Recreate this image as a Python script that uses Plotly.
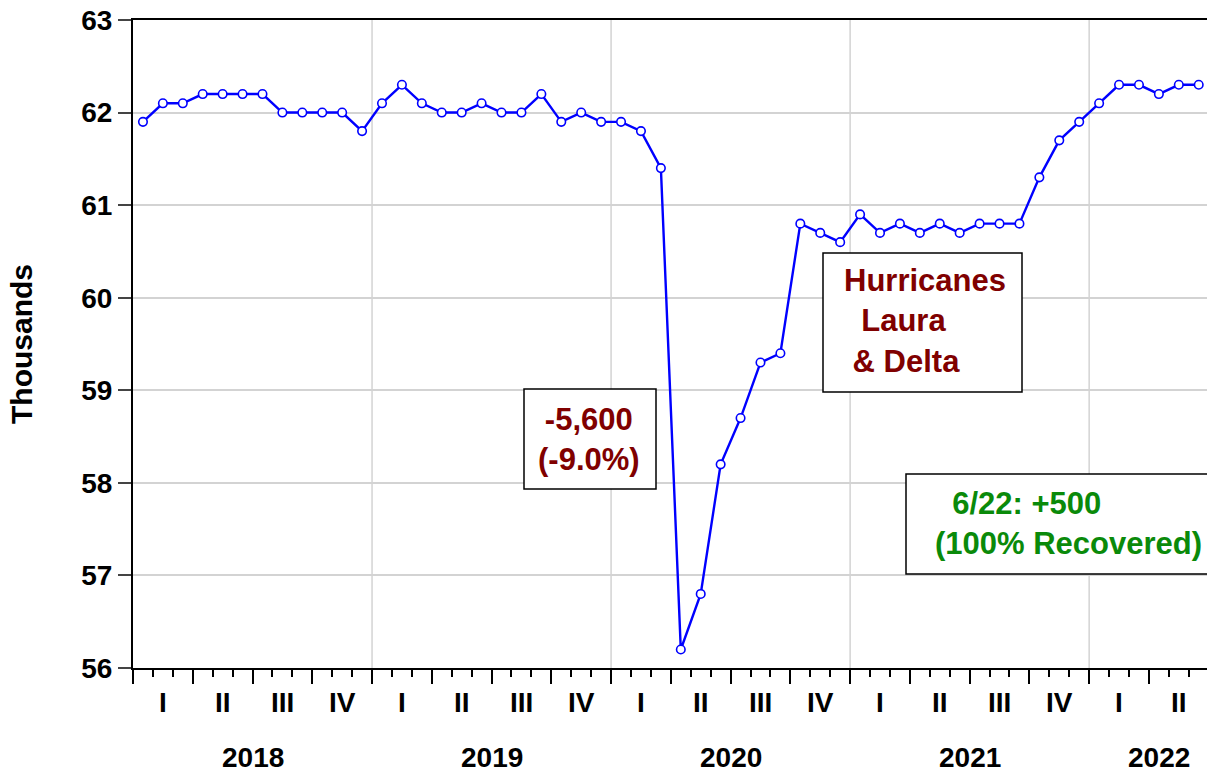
import plotly.graph_objects as go

# Monthly employment, thousands (Jan 2018 - Jun 2022)
employment = [
    61.9, 62.1, 62.1, 62.2, 62.2, 62.2, 62.2, 62.0, 62.0, 62.0, 62.0, 61.8,  # 2018
    62.1, 62.3, 62.1, 62.0, 62.0, 62.1, 62.0, 62.0, 62.2, 61.9, 62.0, 61.9,  # 2019
    61.9, 61.8, 61.4, 56.2, 56.8, 58.2, 58.7, 59.3, 59.4, 60.8, 60.7, 60.6,  # 2020
    60.9, 60.7, 60.8, 60.7, 60.8, 60.7, 60.8, 60.8, 60.8, 61.3, 61.7, 61.9,  # 2021
    62.1, 62.3, 62.3, 62.2, 62.3, 62.3,                                      # 2022
]
year_labels = ["2018", "2019", "2020", "2021", "2022"]
quarter_labels = ["I", "II", "III", "IV"]
y_ticks = [56, 57, 58, 59, 60, 61, 62, 63]

FONT = "Liberation Sans, Arial, sans-serif"
BLUE = "#0000FF"
MAROON = "#800000"
GREEN = "#0A8A0A"
GRID = "#D3D3D3"

W, H = 1207, 773
L, R, T, B = 133, 0, 20, 105
PW, PH = W - L - R, H - T - B


def pxx(x):
    return (x - L) / PW


def pxy(y):
    return (H - B - y) / PH


n = len(employment)
x_pos = [i + 0.5 for i in range(n)]
x_end = PW / 19.92

fig = go.Figure(
    go.Scatter(
        x=x_pos,
        y=employment,
        mode="lines+markers",
        line=dict(color=BLUE, width=2.4),
        marker=dict(symbol="circle", size=8.5, color="white",
                    line=dict(color=BLUE, width=1.6)),
        showlegend=False,
    )
)

# vertical grid lines at year boundaries
for k in range(1, len(year_labels)):
    fig.add_shape(type="line", xref="x", yref="paper", x0=12 * k, x1=12 * k,
                  y0=0, y1=1, line=dict(color=GRID, width=1.5), layer="below")

# quarter labels under the axis
n_quarters = -(-n // 3)
for q in range(n_quarters):
    fig.add_annotation(x=3 * q + 1.5, y=pxy(702), xref="x", yref="paper",
                       text=quarter_labels[q % 4], showarrow=False,
                       yanchor="middle",
                       font=dict(family=FONT, size=28, color="black", weight="bold"))

# year labels
for k, label in enumerate(year_labels):
    start = 12 * k
    stop = min(start + 12, n)
    xm = (start + stop) / 2 + (0.5 if stop - start < 12 else 0)
    fig.add_annotation(x=xm, y=pxy(757), xref="x", yref="paper",
                       text=label, showarrow=False, yanchor="middle",
                       font=dict(family=FONT, size=28, color="black", weight="bold"))

# y-axis title
fig.add_annotation(x=pxx(21), y=pxy(344), xref="paper", yref="paper",
                   text="Thousands", textangle=-90, showarrow=False,
                   xanchor="center", yanchor="middle",
                   font=dict(family=FONT, size=30, color="black", weight="bold"))


def box(x0, y0, x1, y1):
    fig.add_shape(type="rect", xref="paper", yref="paper",
                  x0=pxx(x0), x1=pxx(x1), y0=pxy(y1), y1=pxy(y0),
                  line=dict(color="black", width=1.5), fillcolor="white",
                  layer="above")


def note(text, x, y, color, xanchor="center", align="center"):
    fig.add_annotation(x=pxx(x), y=pxy(y), xref="paper", yref="paper",
                       text=text, showarrow=False, xanchor=xanchor,
                       yanchor="middle", align=align,
                       font=dict(family=FONT, size=31, color=color, weight="bold"))


NB = "\u00a0"

box(524, 389, 656, 489)
note("-5,600<br>(-9.0%)", 589, 439, MAROON)

box(823, 253, 1022, 392)
note(f"Hurricanes<br>{NB*2}Laura<br>{NB}& Delta", 842, 321, MAROON,
     xanchor="left", align="left")

box(906, 474, 1210, 574)
note(f"{NB*2}6/22: +500<br>(100% Recovered)", 933, 523, GREEN,
     xanchor="left", align="left")

fig.update_layout(
    width=W, height=H,
    margin=dict(l=L, r=R, t=T, b=B, pad=0),
    paper_bgcolor="white", plot_bgcolor="white",
    font=dict(family=FONT, color="black"),
    xaxis=dict(
        range=[0, x_end], showline=True, linecolor="black", linewidth=2,
        mirror=True, showgrid=False, zeroline=False,
        ticks="outside", tickvals=list(range(0, n + 1, 3)), ticklen=14,
        tickwidth=1.5, tickcolor="black", showticklabels=False,
        minor=dict(tickvals=list(range(0, n + 1)), ticks="outside",
                   ticklen=7, tickwidth=1.5, tickcolor="black", showgrid=False),
    ),
    yaxis=dict(
        range=[56, 63], tickvals=y_ticks, showline=True, linecolor="black",
        linewidth=2, mirror=False, ticks="outside", ticklen=13, tickwidth=1.5,
        tickcolor="#444444", showgrid=True, gridcolor=GRID, gridwidth=1.5,
        zeroline=False,
        tickfont=dict(family=FONT, size=28, color="black", weight="bold"),
    ),
)

fig.write_html("out.html")
